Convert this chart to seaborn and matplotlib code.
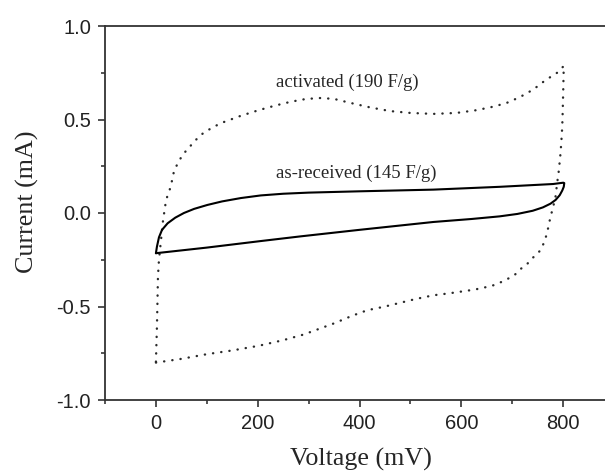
import matplotlib
matplotlib.use("Agg")
import matplotlib.pyplot as plt
import seaborn as sns
import pandas as pd
from matplotlib.ticker import MultipleLocator

# as-received electrode, one CV loop (mV, mA)
asrec_v = [0, 50, 100, 206, 284, 400, 545, 620, 675, 710, 740, 760, 775, 785, 793, 798, 801, 802,
           800, 780, 675, 545, 400, 300, 250, 206, 167, 130, 101, 75, 55, 38, 23, 12, 6, 2, 0]
asrec_i = [-0.215, -0.20, -0.185, -0.15, -0.125, -0.09, -0.048, -0.032, -0.018, -0.005, 0.012, 0.03, 0.05, 0.07,
           0.095, 0.12, 0.14, 0.16,
           0.162, 0.155, 0.14, 0.125, 0.116, 0.109, 0.103, 0.094, 0.08, 0.062, 0.043, 0.022, 0.0, -0.025, -0.055,
           -0.09, -0.13, -0.18, -0.215]

# activated electrode
act_v = [0, 50, 100, 150, 202, 250, 290, 320, 350, 385, 415, 450, 480, 510, 545, 575, 600, 625, 643, 665, 686,
         705, 716, 730, 740, 748, 755, 762, 768, 775, 780, 785, 788, 791, 794, 796, 798, 799, 800, 801,
         788, 765, 741, 715, 690, 665, 630, 590, 545, 500, 460, 420, 380, 350, 324, 295, 265, 235, 202, 167, 147,
         127, 110, 94, 78, 65, 52, 44, 36, 29, 20, 14, 10, 6, 4, 3, 2, 1, 0]
act_i = [-0.80, -0.78, -0.755, -0.735, -0.71, -0.68, -0.65, -0.62, -0.59, -0.55, -0.52, -0.50, -0.48, -0.46, -0.44,
         -0.43, -0.42, -0.41, -0.40, -0.385, -0.36,
         -0.33, -0.30, -0.27, -0.24, -0.22, -0.20, -0.16, -0.11, -0.02, 0.03, 0.09, 0.16, 0.22, 0.30, 0.37, 0.46,
         0.55, 0.66, 0.786,
         0.75, 0.71, 0.66, 0.62, 0.59, 0.57, 0.55, 0.535, 0.53, 0.535, 0.545, 0.565, 0.59, 0.61, 0.615, 0.61, 0.595,
         0.575, 0.55, 0.52, 0.50, 0.48, 0.455, 0.43, 0.39, 0.35, 0.31, 0.27, 0.23, 0.14, 0.07, -0.04, -0.145, -0.25,
         -0.34, -0.48, -0.61, -0.70, -0.80]

labels = ["activated (190 F/g)", "as-received (145 F/g)"]

sns.set_style("ticks")
plt.rcParams['font.family'] = ['Liberation Sans', 'DejaVu Sans']

fig = plt.figure(figsize=(6.05, 4.72), dpi=100)
ax = fig.add_axes([105 / 605, 72 / 472, 500 / 605, 374 / 472])

dfA = pd.DataFrame({"v": act_v, "i": act_i})
dfR = pd.DataFrame({"v": asrec_v, "i": asrec_i})

sns.lineplot(data=dfA, x="v", y="i", sort=False, estimator=None, ax=ax,
             color="#2a2a2a", linewidth=1.7, linestyle=(0, (0.1, 3.4)))
ax.lines[-1].set_dash_capstyle("round")
sns.lineplot(data=dfR, x="v", y="i", sort=False, estimator=None, ax=ax,
             color="black", linewidth=1.5)
ax.lines[-1].set_solid_joinstyle("round")

ax.set_xlim(-100, 882)
ax.set_ylim(-1.0, 1.0)
ax.xaxis.set_major_locator(MultipleLocator(200))
ax.xaxis.set_minor_locator(MultipleLocator(100))
ax.yaxis.set_major_locator(MultipleLocator(0.5))
ax.yaxis.set_minor_locator(MultipleLocator(0.25))
ax.yaxis.set_major_formatter(matplotlib.ticker.FormatStrFormatter("%.1f"))
ax.tick_params(which="major", length=5, width=1.1, labelsize=14.5, colors="#222222", pad=5)
ax.tick_params(which="minor", length=3, width=1.1)
ax.tick_params(top=False, right=False)

for s in ["left", "bottom", "top"]:
    ax.spines[s].set_linewidth(1.3)
    ax.spines[s].set_color("#333333")
ax.spines["right"].set_visible(False)

ax.set_xlabel("Voltage (mV)", family="Liberation Serif", fontsize=18.7, labelpad=10.5)
ax.set_ylabel("Current (mA)", family="Liberation Serif", fontsize=18.7, labelpad=12.5)
ax.xaxis.label.set_x(0.512)
ax.yaxis.label.set_y(0.529)

ax.text(375, 0.70, labels[0], family="Liberation Serif", fontsize=13.5, ha="center", va="center")
ax.text(393, 0.21, labels[1], family="Liberation Serif", fontsize=13.5, ha="center", va="center")

fig.savefig("out.png", dpi=100)
plt.close()
